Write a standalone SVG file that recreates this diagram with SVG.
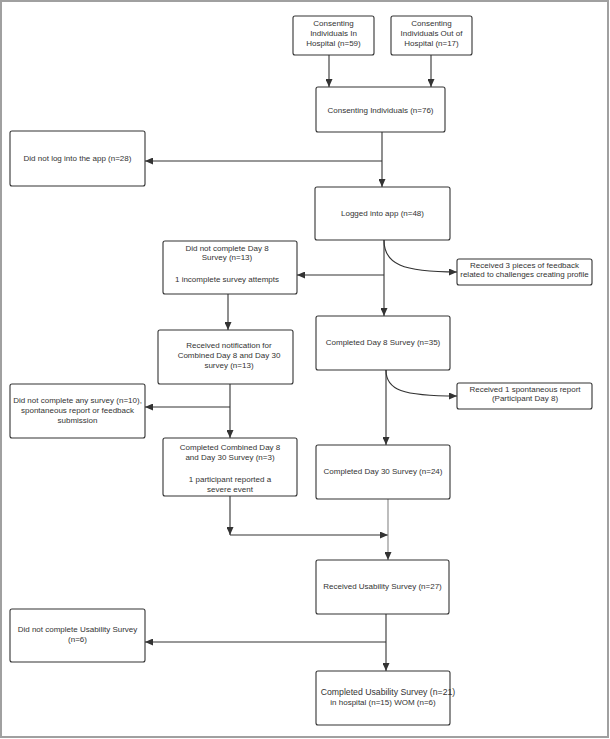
<svg xmlns="http://www.w3.org/2000/svg" width="610" height="739" viewBox="0 0 610 739">
<style>
.box{fill:#fff;stroke:#333;stroke-width:1.1}
.t{font-family:"Liberation Sans",Arial,sans-serif;font-size:8px;fill:#333;text-anchor:middle}
.c{fill:none;stroke:#333;stroke-width:1.1}
.g{stroke:#888}
</style>
<defs>
<marker id="ah" markerUnits="userSpaceOnUse" markerWidth="8" markerHeight="7" refX="8" refY="3.5" orient="auto">
<path d="M0,0 L8,3.5 L0,7 z" fill="#333"/>
</marker>
</defs>
<rect x="1" y="1" width="607" height="736" fill="#fff" stroke="#a0a0a0" stroke-width="2"/>
<g id="connectors">
<path class="c" d="M329,55 V87" marker-end="url(#ah)"/>
<path class="c" d="M431,55 V87" marker-end="url(#ah)"/>
<path class="c" d="M382,132 V187" marker-end="url(#ah)"/>
<path class="c" d="M382,161 H145" marker-end="url(#ah)"/>
<path class="c" d="M384,240 V316" marker-end="url(#ah)"/>
<path class="c" d="M384,275 H297" marker-end="url(#ah)"/>
<path class="c" d="M384,240 C384,264 402,272 457,272" marker-end="url(#ah)"/>
<path class="c" d="M228,294 V330" marker-end="url(#ah)"/>
<path class="c" d="M230,384 V438" marker-end="url(#ah)"/>
<path class="c" d="M230,407 H145" marker-end="url(#ah)"/>
<path class="c" d="M386,370 V445" marker-end="url(#ah)"/>
<path class="c" d="M386,370 C386,390 402,396 457,396" marker-end="url(#ah)"/>
<path class="c" d="M230,496 V535" marker-end="url(#ah)"/>
<path class="c" d="M230,535 H388" marker-end="url(#ah)"/>
<path class="c g" d="M388,499 V560" marker-end="url(#ah)"/>
<path class="c" d="M386,614 V671" marker-end="url(#ah)"/>
<path class="c" d="M386,642 H145" marker-end="url(#ah)"/>
</g>
<g id="in-hospital">
<rect class="box" x="293" y="16" width="81" height="39" rx="2"/>
<text class="t" x="333.5" y="26">Consenting</text>
<text class="t" x="333.5" y="36">Individuals In</text>
<text class="t" x="333.5" y="46">Hospital (n=59)</text>
</g>
<g id="out-hospital">
<rect class="box" x="391" y="16" width="81" height="39" rx="2"/>
<text class="t" x="431.5" y="26">Consenting</text>
<text class="t" x="431.5" y="36">Individuals Out of</text>
<text class="t" x="431.5" y="46">Hospital (n=17)</text>
</g>
<g id="consenting">
<rect class="box" x="316" y="87" width="129" height="45" rx="2"/>
<text class="t" x="380.5" y="113">Consenting Individuals (n=76)</text>
</g>
<g id="no-login">
<rect class="box" x="10" y="131" width="135" height="55" rx="2"/>
<text class="t" x="77.5" y="161">Did not log into the app (n=28)</text>
</g>
<g id="logged">
<rect class="box" x="315" y="187" width="135" height="53" rx="2"/>
<text class="t" x="382.5" y="215.7">Logged into app (n=48)</text>
</g>
<g id="no-day8">
<rect class="box" x="163" y="241" width="134" height="53" rx="2"/>
<text class="t" x="227" y="250.5">Did not complete Day 8</text>
<text class="t" x="227" y="260">Survey (n=13)</text>
<text class="t" x="227" y="281.5">1 incomplete survey attempts</text>
</g>
<g id="feedback">
<rect class="box" x="457" y="259" width="135" height="26" rx="2"/>
<text class="t" x="524.5" y="267.7">Received 3 pieces of feedback</text>
<text class="t" x="524.5" y="277.3">related to challenges creating profile</text>
</g>
<g id="day8">
<rect class="box" x="316" y="316" width="134" height="54" rx="2"/>
<text class="t" x="383" y="344.7">Completed Day 8 Survey (n=35)</text>
</g>
<g id="notification">
<rect class="box" x="158" y="330" width="135" height="54" rx="2"/>
<text class="t" x="229" y="348">Received notification for</text>
<text class="t" x="229" y="357.7">Combined Day 8 and Day 30</text>
<text class="t" x="229" y="367.7">survey (n=13)</text>
</g>
<g id="no-survey">
<rect class="box" x="10" y="384" width="135" height="54" rx="2"/>
<text class="t" x="77.5" y="403">Did not complete any survey (n=10),</text>
<text class="t" x="77.5" y="412.7">spontaneous report or feedback</text>
<text class="t" x="77.5" y="423">submission</text>
</g>
<g id="spontaneous">
<rect class="box" x="457" y="383" width="135" height="26" rx="2"/>
<text class="t" x="525" y="391.7">Received 1 spontaneous report</text>
<text class="t" x="525" y="401.3">(Participant Day 8)</text>
</g>
<g id="combined">
<rect class="box" x="163" y="438" width="134" height="58" rx="2"/>
<text class="t" x="230" y="449.7">Completed Combined Day 8</text>
<text class="t" x="230" y="460">and Day 30 Survey (n=3)</text>
<text class="t" x="230" y="482.3">1 participant reported a</text>
<text class="t" x="230" y="492.3">severe event</text>
</g>
<g id="day30">
<rect class="box" x="316" y="445" width="134" height="54" rx="2"/>
<text class="t" x="383" y="474">Completed Day 30 Survey (n=24)</text>
</g>
<g id="usability">
<rect class="box" x="316" y="560" width="133" height="54" rx="2"/>
<text class="t" x="382.5" y="589">Received Usability Survey (n=27)</text>
</g>
<g id="no-usability">
<rect class="box" x="10" y="609" width="135" height="53" rx="2"/>
<text class="t" x="77.5" y="632.3">Did not complete Usability Survey</text>
<text class="t" x="77.5" y="642.3">(n=6)</text>
</g>
<g id="completed-usability">
<rect class="box" x="316" y="671" width="134" height="54" rx="2"/>
<text class="t" x="388" y="695" style="font-size:8.7px">Completed Usability Survey (n=21)</text>
<text class="t" x="383" y="705">in hospital (n=15) WOM (n=6)</text>
</g>
</svg>
